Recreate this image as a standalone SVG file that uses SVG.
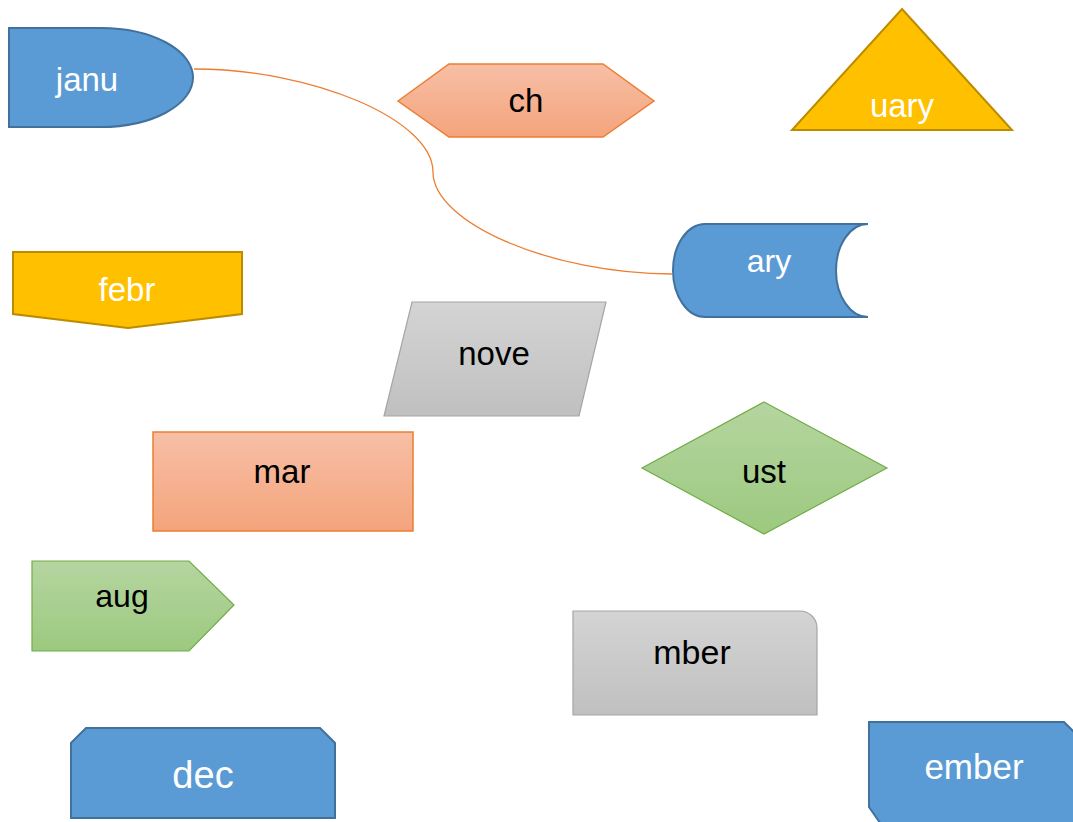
<svg xmlns="http://www.w3.org/2000/svg" width="1073" height="822" viewBox="0 0 1073 822">
<defs>
<linearGradient id="gOr" x1="0" y1="0" x2="0" y2="1"><stop offset="0" stop-color="#f7bfa6"/><stop offset="1" stop-color="#f4a47c"/></linearGradient>
<linearGradient id="gGr" x1="0" y1="0" x2="0" y2="1"><stop offset="0" stop-color="#b5d5a0"/><stop offset="1" stop-color="#9cc97f"/></linearGradient>
<linearGradient id="gGy" x1="0" y1="0" x2="0" y2="1"><stop offset="0" stop-color="#d4d4d4"/><stop offset="1" stop-color="#c0c0c0"/></linearGradient>
</defs>
<style>
text{font-family:"Liberation Sans",Arial,sans-serif;font-size:33px;text-anchor:middle}
.blue{fill:#5b9bd5;stroke:#41719c;stroke-width:2}
.yel{fill:#ffc000;stroke:#bc8c00;stroke-width:2}
.org{fill:url(#gOr);stroke:#ed7d31;stroke-width:1.5}
.grn{fill:url(#gGr);stroke:#70ad47;stroke-width:1.2}
.gry{fill:url(#gGy);stroke:#a5a5a5;stroke-width:1.2}
.w{fill:#ffffff}
.k{fill:#000000}
.conn{fill:none;stroke:#ed7d31;stroke-width:1.3}
</style>
<rect width="1073" height="822" fill="#ffffff"/>
<g id="connectors">
<path class="conn" d="M194,69 C313,69 433,120 433,172 C433,223 552,274 672,274"/>
</g>
<g id="janu">
<path class="blue" d="M9,28 H101 A92,49.5 0 0 1 101,127 H9 Z"/>
<text class="w" x="87" y="91">janu</text>
</g>
<g id="ch">
<polygon class="org" points="398,101 449,64 603,64 654,101 603,137 449,137"/>
<text class="k" x="526" y="112">ch</text>
</g>
<g id="uary">
<polygon class="yel" points="902,9 1012,130 792,130"/>
<text class="w" x="902" y="117">uary</text>
</g>
<g id="ary">
<path class="blue" d="M705,224 H868 A32,46.5 0 0 0 868,317 H705 A32,46.5 0 0 1 705,224 Z"/>
<text class="w" x="769" y="272" style="font-size:32px">ary</text>
</g>
<g id="febr">
<polygon class="yel" points="13,252 242,252 242,314 128,328 13,314"/>
<text class="w" x="127" y="301">febr</text>
</g>
<g id="nove">
<polygon class="gry" points="412,302 606,302 579,416 384,416"/>
<text class="k" x="494" y="365">nove</text>
</g>
<g id="mar">
<rect class="org" x="153" y="432" width="260" height="99"/>
<text class="k" x="282" y="483">mar</text>
</g>
<g id="ust">
<polygon class="grn" points="764,402 887,468 764,534 642,468"/>
<text class="k" x="764" y="483">ust</text>
</g>
<g id="aug">
<polygon class="grn" points="32,561 189,561 234,605 189,651 32,651"/>
<text class="k" x="122" y="607" style="font-size:32px">aug</text>
</g>
<g id="mber">
<path class="gry" d="M573,611 H800 A17,17 0 0 1 817,628 V715 H573 Z"/>
<text class="k" x="692" y="664" style="font-size:34px">mber</text>
</g>
<g id="dec">
<polygon class="blue" points="86,728 320,728 335,743 335,818 71,818 71,743"/>
<text class="w" x="203" y="788" style="font-size:38px">dec</text>
</g>
<g id="ember">
<polygon class="blue" points="869,722 1064,722 1080,738 1080,830 885,830 869,807"/>
<text class="w" x="974" y="779" style="font-size:35px">ember</text>
</g>
</svg>
